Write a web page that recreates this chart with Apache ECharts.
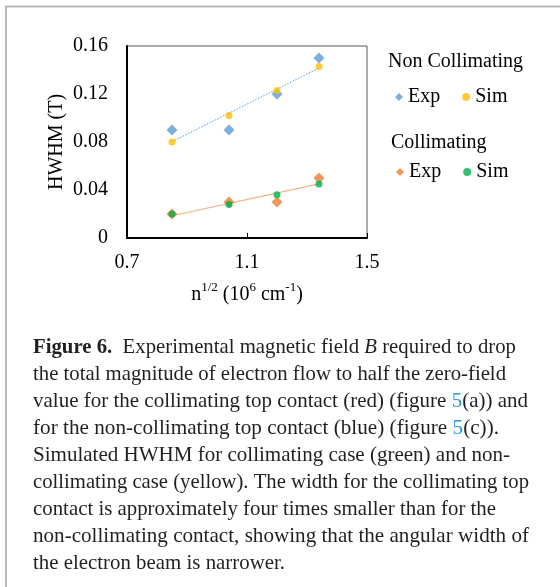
<!DOCTYPE html>
<html><head><meta charset="utf-8">
<script src="https://cdn.jsdelivr.net/npm/echarts@6/dist/echarts.min.js"></script>
<style>html,body{margin:0;padding:0;background:#fff}#c{width:560px;height:587px}</style>
</head><body><div id="c"></div>
<script>
// ---- data ----
const xVals = [0.85, 1.04, 1.20, 1.34];
const nonCollExp = [0.090, 0.090, 0.120, 0.150];
const nonCollSim = [0.080, 0.102, 0.123, 0.143];
const collExp = [0.020, 0.030, 0.030, 0.050];
const collSim = [0.020, 0.028, 0.036, 0.045];
const xAxisTicks = [0.7, 1.1, 1.5];
const yAxisTicks = [0, 0.04, 0.08, 0.12, 0.16];
const legendGroups = ['Non Collimating', 'Collimating'];
const legendNames = ['Exp', 'Sim'];

const SERIF = '"Liberation Serif", "Times New Roman", serif';
const C = { blue: '#5B9BD5', yellow: '#FFC000', orange: '#ED7D31', green: '#00B050' };

function pairs(xs, ys) { return xs.map((x, i) => [x, ys[i]]); }
function linFit(xs, ys) {
  const n = xs.length;
  const mx = xs.reduce((a, b) => a + b, 0) / n, my = ys.reduce((a, b) => a + b, 0) / n;
  let sxy = 0, sxx = 0;
  xs.forEach((x, i) => { sxy += (x - mx) * (ys[i] - my); sxx += (x - mx) * (x - mx); });
  const k = sxy / sxx, b = my - k * mx;
  const x0 = Math.min(...xs), x1 = Math.max(...xs);
  return [[x0, k * x0 + b], [x1, k * x1 + b]];
}

// ---- caption ----
const captionLines = [
  [['b', 'Figure 6.'], ['n', '  Experimental magnetic field '], ['i', 'B'], ['n', ' required to drop']],
  [['n', 'the total magnitude of electron flow to half the zero-field']],
  [['n', 'value for the collimating top contact (red) (figure '], ['l', '5'], ['n', '(a)) and']],
  [['n', 'for the non-collimating top contact (blue) (figure '], ['l', '5'], ['n', '(c)).']],
  [['n', 'Simulated HWHM for collimating case (green) and non-']],
  [['n', 'collimating case (yellow). The width for the collimating top']],
  [['n', 'contact is approximately four times smaller than for the']],
  [['n', 'non-collimating contact, showing that the angular width of']],
  [['n', 'the electron beam is narrower.']]
];
const captionWidths = [483, 473, 495, 466, 477, 496, 463, 496, 252];
const CAP_FS = 22, CAP_X = 33, CAP_Y0 = 347, CAP_LH = 27;
const capFonts = {
  n: `${CAP_FS}px ${SERIF}`, b: `bold ${CAP_FS}px ${SERIF}`,
  i: `italic ${CAP_FS}px ${SERIF}`, l: `${CAP_FS}px ${SERIF}`
};
const mctx = document.createElement('canvas').getContext('2d');
function measure(segs) {
  let w = 0;
  segs.forEach(([k, t]) => { mctx.font = capFonts[k]; w += mctx.measureText(t).width; });
  return w;
}
const capRich = {
  n: { fontSize: CAP_FS, fontFamily: SERIF, fill: '#231f20' },
  b: { fontSize: CAP_FS, fontFamily: SERIF, fontWeight: 'bold', fill: '#231f20' },
  i: { fontSize: CAP_FS, fontFamily: SERIF, fontStyle: 'italic', fill: '#231f20' },
  l: { fontSize: CAP_FS, fontFamily: SERIF, fill: '#1E9AD6' }
};
const captionGraphics = captionLines.map((segs, i) => ({
  type: 'text',
  x: CAP_X, y: CAP_Y0 + i * CAP_LH,
  scaleX: captionWidths[i] / measure(segs),
  style: {
    x: 0, y: 0,
    text: segs.map(([k, t]) => `{${k}|${t}}`).join(''),
    rich: capRich,
    font: capFonts.n,
    fill: '#231f20',
    textAlign: 'left', textVerticalAlign: 'middle'
  }
}));

const chart = echarts.init(document.getElementById('c'), null, { renderer: 'canvas' });
const lbl = { fontFamily: SERIF, fontSize: 20, color: '#000' };

chart.setOption({
  animation: false,
  backgroundColor: '#fff',
  grid: { left: 127, right: 193, top: 46, bottom: 349, show: true, borderColor: '#595959', borderWidth: 1, containLabel: false },
  xAxis: {
    type: 'value', min: xAxisTicks[0], max: xAxisTicks[xAxisTicks.length - 1],
    interval: xAxisTicks[1] - xAxisTicks[0],
    axisLine: { lineStyle: { color: '#000', width: 2 } },
    axisTick: { show: true, inside: true, length: 5, lineStyle: { color: '#000', width: 1 } },
    splitLine: { show: false },
    axisLabel: Object.assign({ margin: 15, formatter: v => v.toFixed(1) }, lbl),
    name: '{n|n}{s|1/2}{n| (10}{s|6}{n| cm}{s|-1}{n|)}',
    nameLocation: 'middle', nameGap: 43,
    nameTextStyle: {
      rich: {
        n: { fontFamily: SERIF, fontSize: 20, color: '#000', lineHeight: 24, verticalAlign: 'bottom' },
        s: { fontFamily: SERIF, fontSize: 13, color: '#000', lineHeight: 14, verticalAlign: 'top' }
      }
    }
  },
  yAxis: {
    type: 'value', min: yAxisTicks[0], max: yAxisTicks[yAxisTicks.length - 1],
    interval: yAxisTicks[1] - yAxisTicks[0],
    axisLine: { show: true, lineStyle: { color: '#000', width: 2 } },
    axisTick: { show: false },
    splitLine: { show: false },
    axisLabel: Object.assign({ margin: 19, formatter: v => (v === 0 ? '0' : v.toFixed(2)) }, lbl),
    name: 'HWHM (T)', nameLocation: 'middle', nameRotate: 90, nameGap: 60,
    nameTextStyle: { fontFamily: SERIF, fontSize: 20, color: '#000' }
  },
  legend: [
    { data: [{ name: 'Exp_nc', icon: 'diamond' }, { name: 'Sim_nc', icon: 'circle' }],
      left: 395, top: 87, padding: 0, itemWidth: 8, itemHeight: 8, itemGap: 22,
      formatter: n => n.split('_')[0], textStyle: lbl, selectedMode: false },
    { data: [{ name: 'Exp_c', icon: 'diamond' }, { name: 'Sim_c', icon: 'circle' }],
      left: 396, top: 162, padding: 0, itemWidth: 8, itemHeight: 8, itemGap: 22,
      formatter: n => n.split('_')[0], textStyle: lbl, selectedMode: false }
  ],
  graphic: [
    { type: 'rect', shape: { x: 6, y: 6.5, width: 700, height: 700 }, style: { fill: 'none', stroke: '#b8b8b8', lineWidth: 2 }, silent: true },
    { type: 'text', x: 388, y: 62, style: { text: legendGroups[0], font: `20px ${SERIF}`, fill: '#000', textVerticalAlign: 'middle' } },
    { type: 'text', x: 391, y: 143, style: { text: legendGroups[1], font: `20px ${SERIF}`, fill: '#000', textVerticalAlign: 'middle' } }
  ].concat(captionGraphics),
  series: [
    { type: 'line', data: linFit(xVals, nonCollExp), showSymbol: false, symbol: 'none', silent: true,
      lineStyle: { color: C.blue, width: 1, type: [1.5, 1.5] }, z: 1 },
    { type: 'line', data: linFit(xVals, collExp), showSymbol: false, symbol: 'none', silent: true,
      lineStyle: { color: '#F4B183', width: 1.2 }, z: 1 },
    { name: 'Exp_nc', type: 'scatter', data: pairs(xVals, nonCollExp), symbol: 'diamond', symbolSize: 11, itemStyle: { color: C.blue }, z: 2 },
    { name: 'Sim_nc', type: 'scatter', data: pairs(xVals, nonCollSim), symbol: 'circle', symbolSize: 7, itemStyle: { color: C.yellow }, z: 3 },
    { name: 'Exp_c', type: 'scatter', data: pairs(xVals, collExp), symbol: 'diamond', symbolSize: 11, itemStyle: { color: C.orange }, z: 2 },
    { name: 'Sim_c', type: 'scatter', data: pairs(xVals, collSim), symbol: 'circle', symbolSize: 7, itemStyle: { color: C.green }, z: 3 }
  ]
});
</script></body></html>
